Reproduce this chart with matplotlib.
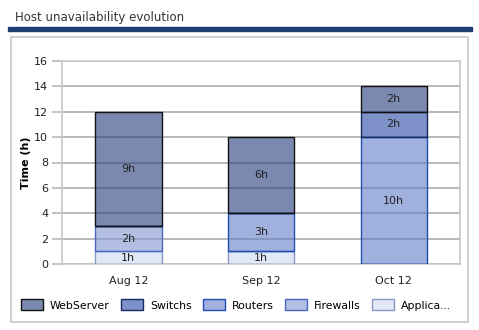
import matplotlib.pyplot as plt
from matplotlib.patches import Rectangle
from matplotlib.colors import to_rgb
import numpy as np

months = ["Aug 12", "Sep 12", "Oct 12"]
series = ["Applica...", "Firewalls", "Routers", "Switchs", "WebServer"]
hours = {
    "Applica...": [1, 1, 0],
    "Firewalls": [2, 0, 0],
    "Routers": [0, 3, 10],
    "Switchs": [0, 0, 2],
    "WebServer": [9, 6, 2],
}
colors = {
    "Applica...": ("#e2e8f5", "#8a98c8"),
    "Firewalls": ("#b3c0e3", "#4a66c0"),
    "Routers": ("#a1b1dd", "#1f4fb5"),
    "Switchs": ("#7f91c9", "#142a60"),
    "WebServer": ("#7b89b0", "#111111"),
}
ALPHA = 0.62


def see_through(c):
    # face colour that looks like c when drawn with ALPHA over white
    return tuple(min(1, max(0, (v - (1 - ALPHA)) / ALPHA)) for v in to_rgb(c))


fig = plt.figure(figsize=(4.79, 3.3), dpi=100)
W, H = 479, 330

# title and blue rule
fig.text(15 / W, 1 - 17 / H, "Host unavailability evolution", fontsize=8.5,
         color="#333333", va="center", ha="left")
fig.patches.append(Rectangle((8 / W, 1 - 31 / H), 464 / W, 4 / H,
                             transform=fig.transFigure, color="#1f3d73"))
# panel box
fig.patches.append(Rectangle((11 / W, 1 - 322 / H), 457 / W, 285 / H,
                             transform=fig.transFigure, fill=False,
                             edgecolor="#c8c8c8", linewidth=1.2))

ax = fig.add_axes([62 / W, 1 - 264 / H, 398 / W, 203 / H])
x = np.arange(len(months))
ax.set_xlim(-0.5, 2.5)
ax.set_ylim(0, 16)
ax.set_yticks(range(0, 17, 2))
ax.yaxis.grid(True, color="#b8b8b8", linewidth=1.4)
ax.set_axisbelow(True)
for s in ax.spines.values():
    s.set_color("#c8c8c8")
    s.set_linewidth(1.2)
ax.tick_params(axis="y", length=7, color="#c4c4c4", width=1.4, labelsize=8,
               labelcolor="#222222", pad=3)
ax.tick_params(axis="x", length=0, labelsize=8, labelcolor="#222222", pad=9)
ax.set_xticks(x)
ax.set_xticklabels(months)
ax.set_ylabel("Time (h)", fontsize=8, fontweight="bold", labelpad=2)

bottom = np.zeros(len(months))
for name in series:
    vals = np.array(hours[name], dtype=float)
    fc, ec = colors[name]
    ax.bar(x, vals, 0.5, bottom=bottom, facecolor=see_through(fc) + (ALPHA,),
           edgecolor=ec, linewidth=1.0, label=name, zorder=3)
    for xi, v, b in zip(x, vals, bottom):
        if v > 0:
            ax.text(xi, b + v / 2, f"{int(v)}h", ha="center", va="center",
                    fontsize=8, color="#222222", zorder=4)
    bottom += vals

leg_handles = [Rectangle((0, 0), 1, 1, facecolor=colors[n][0], edgecolor=colors[n][1],
                         linewidth=1.0) for n in series[::-1]]
fig.legend(leg_handles, series[::-1], loc="center",
           bbox_to_anchor=(236 / W, 1 - 305 / H), ncol=5, frameon=False,
           fontsize=7.8, handlelength=2.0, handleheight=1.15,
           columnspacing=1.05, handletextpad=0.67, borderpad=0, borderaxespad=0)

fig.savefig("out.png", dpi=100)
